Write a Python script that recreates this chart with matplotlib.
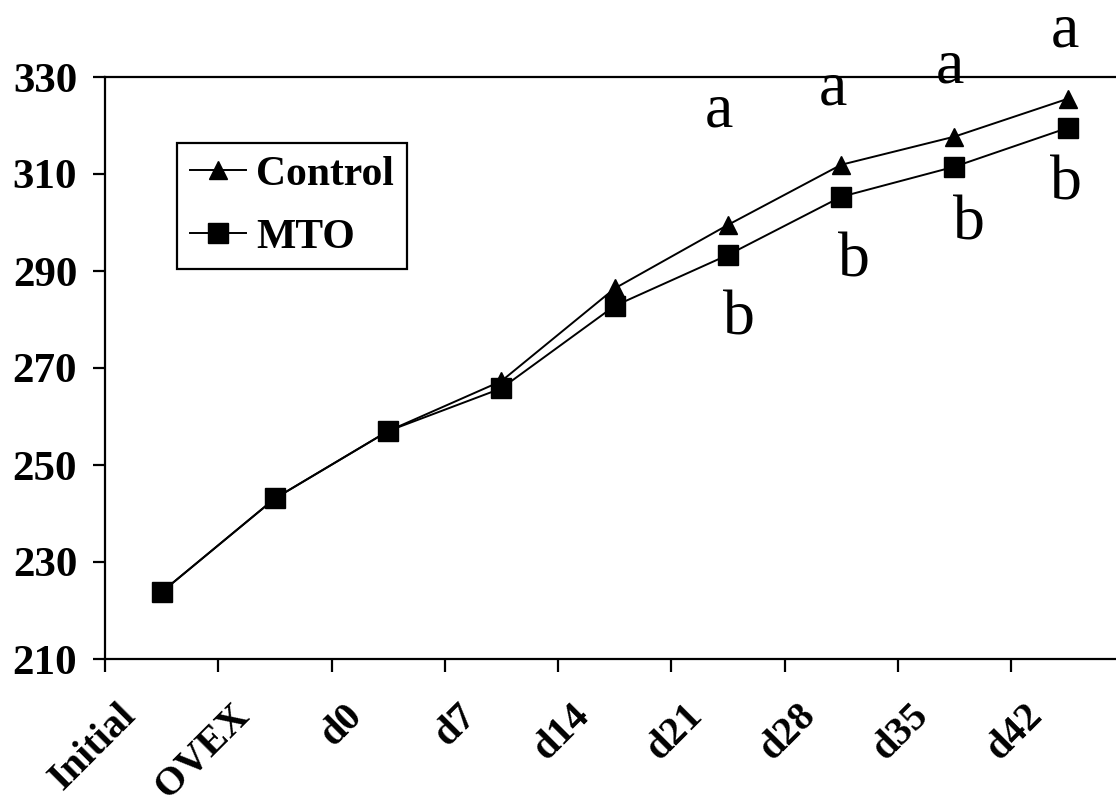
import numpy as np
import matplotlib
matplotlib.use("Agg")
import matplotlib.pyplot as plt
import matplotlib.transforms as mtransforms

# weight by sampling time
categories = ["Initial", "OVEX", "d0", "d7", "d14", "d21", "d28", "d35", "d42"]
control = [223.8, 243.1, 257.0, 267.3, 286.4, 299.5, 311.9, 317.7, 325.5]
mto = [223.8, 243.1, 257.0, 265.8, 282.8, 293.3, 305.3, 311.5, 319.5]
yticks = [210, 230, 250, 270, 290, 310, 330]

# significance letters (index of time point, letter above control, letter below MTO)
sig_points = [5, 6, 7, 8]
sig_upper = ["a", "a", "a", "a"]
sig_lower = ["b", "b", "b", "b"]

plt.rcParams["font.family"] = ["Liberation Serif", "DejaVu Serif"]

fig = plt.figure(figsize=(11.16, 8.11), dpi=100)
ax = fig.add_axes([105 / 1116, 152 / 811, 1019.25 / 1116, 582 / 811])

x = np.arange(len(categories))
ax.plot(x, control, color="black", lw=1.4, marker="^", ms=13,
        label="Control", zorder=3)
ax.plot(x, mto, color="black", lw=1.4, marker="s", ms=14,
        label="MTO", zorder=4)

ax.set_xlim(-0.5, len(categories) - 0.5)
ax.set_ylim(210, 330)
ax.set_yticks(yticks)
ax.set_xticks(np.arange(-0.5, len(categories) - 0.5, 1))
ax.set_xticklabels([])

for side in ["left", "top", "bottom"]:
    ax.spines[side].set_linewidth(1.6)
ax.spines["right"].set_visible(False)
ax.tick_params(axis="both", direction="out", length=9, width=1.6)
ax.tick_params(axis="y", pad=11, labelsize=31)
for lab in ax.get_yticklabels():
    lab.set_fontweight("bold")

# slanted category labels
shift = mtransforms.ScaledTranslation(-18 / 100, -38 / 100, fig.dpi_scale_trans)
trans = mtransforms.blended_transform_factory(ax.transData, ax.transAxes) + shift
for i, name in enumerate(categories):
    ax.text(i, 0, name, transform=trans, rotation=45, ha="right", va="top",
            fontsize=29, fontweight="bold")

# letters above / below the last four time points
up_off = [(-9, 98), (-8, 60), (-4, 54), (-3, 52)]
low_off = [(11, -80), (13, -80), (15, -73), (-2, -72)]
for k, i in enumerate(sig_points):
    ax.annotate(sig_upper[k], (i, control[i]), xytext=(up_off[k][0] * 0.72, up_off[k][1] * 0.72),
                textcoords="offset points", ha="center", va="baseline",
                fontsize=46, annotation_clip=False)
    ax.annotate(sig_lower[k], (i, mto[i]), xytext=(low_off[k][0] * 0.72, low_off[k][1] * 0.72),
                textcoords="offset points", ha="center", va="baseline",
                fontsize=46, annotation_clip=False)

leg = ax.legend(loc="upper left", bbox_to_anchor=(177 / 1116, 1 - 143 / 811),
                bbox_transform=fig.transFigure, borderaxespad=0, fancybox=False,
                edgecolor="black", framealpha=1, handlelength=1.35,
                handletextpad=0.25, borderpad=0.3, labelspacing=0.6,
                prop={"size": 30, "weight": "bold"})
leg.get_frame().set_linewidth(1.6)

fig.savefig("out.png", dpi=100)
